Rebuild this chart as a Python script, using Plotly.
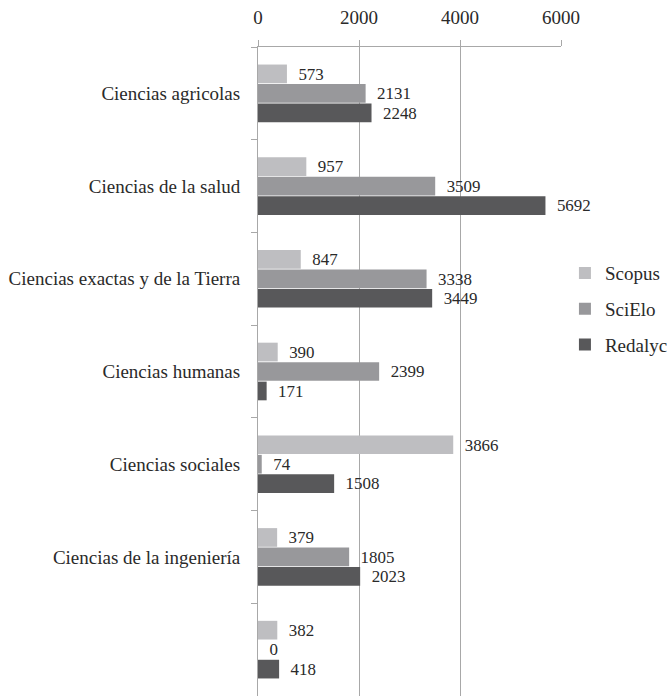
import plotly.graph_objects as go

categories = ["Ciencias agricolas", "Ciencias de la salud", "Ciencias exactas y de la Tierra",
              "Ciencias humanas", "Ciencias sociales", "Ciencias de la ingeniería", " "]
scopus = [573, 957, 847, 390, 3866, 379, 382]
scielo = [2131, 3509, 3338, 2399, 74, 1805, 0]
redalyc = [2248, 5692, 3449, 171, 1508, 2023, 418]
series = [("Scopus", scopus, "#bebec1"), ("SciElo", scielo, "#98989b"), ("Redalyc", redalyc, "#58585a")]

FONT = "Liberation Serif"
FS = 19
TXT = "#2a2a2a"
fig = go.Figure()
for name, vals, col in series:
    fig.add_trace(go.Bar(
        y=categories, x=vals, name=name, orientation="h", marker_color=col,
        marker_line_width=0, texttemplate="  %{x}", textposition="outside",
        legendgroup=name,
        textfont=dict(family=FONT, size=FS, color=TXT), cliponaxis=False))

fig.update_layout(
    width=667, height=696, barmode="group", bargap=0.37, bargroupgap=0.04,
    margin=dict(l=258, r=106, t=47, b=0, autoexpand=False),
    plot_bgcolor="white", paper_bgcolor="white",
    font=dict(family=FONT, size=FS, color=TXT),
    legend=dict(x=1.013, y=0.596, xanchor="left", yanchor="middle",
                font=dict(family=FONT, size=FS, color=TXT), traceorder="grouped",
                tracegroupgap=8, itemwidth=30),
    xaxis=dict(side="top", range=[0, 6000], tickvals=[0, 2000, 4000, 6000],
               showgrid=True, gridcolor="#a8a8a8", gridwidth=1, zeroline=False,
               showline=True, linecolor="#a8a8a8", ticks="outside", ticklen=6,
               tickcolor="#a8a8a8", ticklabelstandoff=8,
               tickfont=dict(family=FONT, size=FS, color=TXT)),
    yaxis=dict(autorange="reversed", showline=True, linecolor="#a8a8a8", ticks="outside",
               tickson="boundaries", ticklen=6, tickcolor="#a8a8a8", showgrid=False,
               tickfont=dict(family=FONT, size=FS, color=TXT), ticklabelstandoff=13),
)
fig.write_html("out.html", config={"displayModeBar": False},
               post_script="document.body.style.margin='0';document.body.style.overflow='hidden';")
